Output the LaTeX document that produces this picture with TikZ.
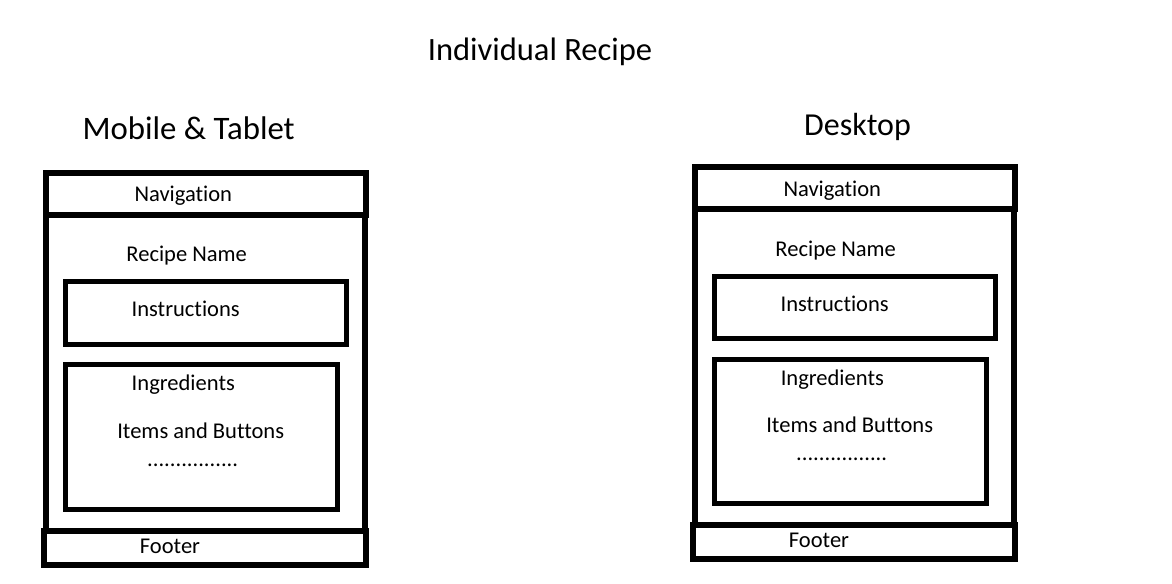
\documentclass[tikz,border=0pt]{standalone}
\usepackage{fontspec}
\setmainfont[Ligatures=NoCommon]{Carlito}
\begin{document}
\begin{tikzpicture}[x=0.75pt,y=-0.75pt]
\tikzset{
  frame/.style={line width=4.5pt},
  inbox/.style={line width=3.75pt},
  lbl/.style={anchor=base, inner sep=0pt, font=\fontsize{16.9pt}{20pt}\selectfont},
  ttl/.style={anchor=base, inner sep=0pt, font=\fontsize{24pt}{28pt}\selectfont},
  layout/.pic={
    \draw[frame] (45.5,214.5) rectangle (365,530.5);
    \draw[frame] (45.5,173) rectangle (365.5,214.5);
    \draw[frame] (44,530.5) rectangle (366,564.5);
    \draw[inbox] (65.8,281.8) rectangle (346,344.2);
    \draw[inbox] (65.8,364.8) rectangle (337.5,509.2);
    \node[lbl] (-nav) at (183.3,201.7) {Navigation};
    \node[lbl] (-name) at (186.7,261.7) {Recipe Name};
    \node[lbl] (-instr) at (185.7,316.7) {Instructions};
    \node[lbl] (-ingr) at (183.3,390.7) {Ingredients};
    \node[lbl] (-items) at (200.7,438.3) {Items and Buttons};
    \node[lbl] (-dots) at (192.7,466) {................};
    \node[lbl] (-foot) at (170,553.3) {Footer};
  }
}
\useasboundingbox[fill=white] (0,0) rectangle (1172,583);
\node[ttl, font=\fontsize{24.4pt}{28pt}\selectfont] (title) at (540,60.7) {Individual Recipe};
\node[ttl, font=\fontsize{24.6pt}{28pt}\selectfont] (mobile) at (188.7,139.3) {Mobile \& Tablet};
\node[ttl] (desktop) at (857.5,135) {Desktop};
\pic (L) at (0,0) {layout};
\pic (R) at (649,-5.7) {layout};
\end{tikzpicture}
\end{document}
